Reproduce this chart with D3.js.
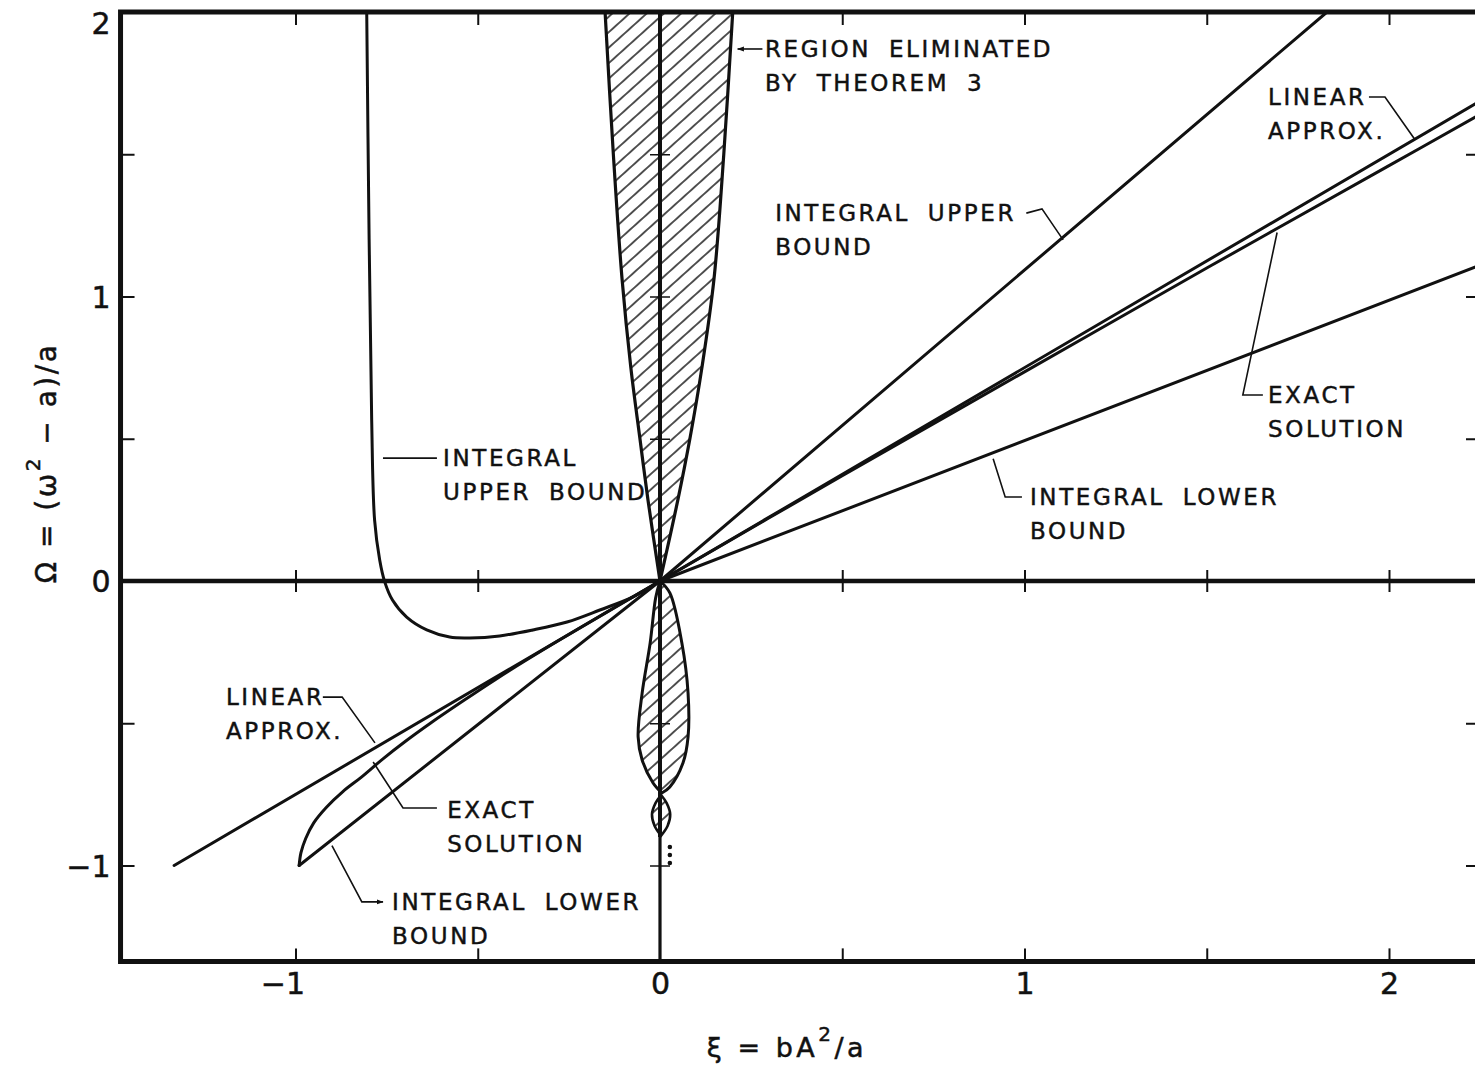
<!DOCTYPE html>
<html>
<head>
<meta charset="utf-8">
<script src="https://cdn.jsdelivr.net/npm/d3@7"></script>
<style>
  html, body { margin: 0; padding: 0; background: #fff; }
  svg { display: block; }
  text { font-family: "DejaVu Sans", sans-serif; fill: #111; }
</style>
</head>
<body>
<svg id="chart" width="1475" height="1071"></svg>
<script>
// ---- axis ticks --------------------------------------------------------
const xiTicks = [-1, -0.5, 0.5, 1, 1.5, 2];
const xiTickLabels = [-1, 0, 1, 2];
const omegaTicks = [-1, -0.5, 0.5, 1, 1.5];
const omegaTickLabels = [-1, 0, 1, 2];

// ---- curves, points are [xi, Omega] ------------------------------------
const linearApprox = [[-1.333, -1.0], [2.25, 1.6875]];

const exactSolutionRight = [[0, 0], [0.5, 0.37], [1, 0.735], [1.5, 1.10], [2, 1.46], [2.25, 1.64]];
const exactSolutionLeft = [
  [0, 0], [-0.3, -0.226], [-0.45, -0.345], [-0.55, -0.43], [-0.63, -0.5], [-0.7, -0.565],
  [-0.76, -0.625], [-0.82, -0.69], [-0.87, -0.74], [-0.915, -0.795], [-0.95, -0.85],
  [-0.972, -0.905], [-0.985, -0.955], [-0.99, -1.0]
];

const integralUpperLeft = [
  [-0.805, 2.05], [-0.798, 1.2], [-0.791, 0.566], [-0.783, 0.214], [-0.769, 0.074],
  [-0.755, -0.004], [-0.734, -0.067], [-0.695, -0.127], [-0.640, -0.172], [-0.577, -0.197],
  [-0.522, -0.200], [-0.440, -0.193], [-0.349, -0.172], [-0.255, -0.144], [-0.165, -0.102],
  [-0.074, -0.056], [0, 0]
];
const integralUpperRight = [[0, 0], [1.83, 2.0]];

const integralLowerLeft = [[-0.99, -1.0], [0, 0]];
const integralLowerRight = [[0, 0], [2.25, 1.11]];

// ---- region eliminated by Theorem 3 -------------------------------------
const wedgeLeft  = [[0, 0], [-0.033, 0.285], [-0.055, 0.5], [-0.08, 0.75], [-0.104, 1.06], [-0.128, 1.5], [-0.152, 2.03]];
const wedgeRight = [[0, 0], [0.049, 0.285], [0.082, 0.5], [0.115, 0.75], [0.148, 1.06], [0.175, 1.5], [0.201, 2.03]];

const lobeLeft  = [[0, 0], [-0.012, -0.06], [-0.027, -0.218], [-0.049, -0.394], [-0.060, -0.548], [-0.049, -0.629], [-0.019, -0.710], [0.005, -0.745]];
const lobeRight = [[0, 0], [0.027, -0.042], [0.060, -0.218], [0.077, -0.394], [0.077, -0.548], [0.063, -0.640], [0.027, -0.724], [0.005, -0.745]];

const smallLobeLeft  = [[0.003, -0.752], [-0.012, -0.78], [-0.022, -0.82], [-0.015, -0.86], [0.003, -0.895]];
const smallLobeRight = [[0.003, -0.752], [0.018, -0.78], [0.028, -0.82], [0.021, -0.86], [0.003, -0.895]];

const continuationDots = [[0.027, -0.935], [0.027, -0.963], [0.027, -0.991]];

// ---- annotations: text anchor and leader in data units ------------------
const notes = [
  { lines: ["REGION ELIMINATED", "BY THEOREM 3"], at: [0.288, 1.870],
    leader: [[0.281, 1.870], [0.213, 1.870]], arrow: "end" },
  { lines: ["INTEGRAL UPPER", "BOUND"], at: [0.316, 1.293],
    leader: [[1.005, 1.293], [1.048, 1.308], [1.106, 1.199]] },
  { lines: ["LINEAR", "APPROX."], at: [1.668, 1.701],
    leader: [[1.945, 1.701], [1.989, 1.701], [2.071, 1.552]] },
  { lines: ["EXACT", "SOLUTION"], at: [1.668, 0.654],
    leader: [[1.654, 0.654], [1.599, 0.654], [1.693, 1.225]] },
  { lines: ["INTEGRAL LOWER", "BOUND"], at: [1.015, 0.295],
    leader: [[0.993, 0.295], [0.947, 0.295], [0.914, 0.43]] },
  { lines: ["INTEGRAL", "UPPER BOUND"], at: [-0.595, 0.432],
    leader: [[-0.760, 0.432], [-0.612, 0.432]] },
  { lines: ["LINEAR", "APPROX."], at: [-1.191, -0.408],
    leader: [[-0.925, -0.408], [-0.872, -0.408], [-0.782, -0.569]] },
  { lines: ["EXACT", "SOLUTION"], at: [-0.584, -0.805],
    leader: [[-0.787, -0.636], [-0.705, -0.798], [-0.612, -0.798]] },
  { lines: ["INTEGRAL LOWER", "BOUND"], at: [-0.735, -1.128],
    leader: [[-0.900, -0.93], [-0.818, -1.128], [-0.760, -1.128]], arrow: "end" }
];

// ---- scales --------------------------------------------------------------
const xDomain = [-1.48, 2.25];
const yDomain = [-1.337, 2];
const x = d3.scaleLinear().domain(xDomain).range([660 + 364.5 * xDomain[0], 660 + 364.5 * xDomain[1]]);
const y = d3.scaleLinear().domain(yDomain).range([581 - 284.5 * yDomain[0], 581 - 284.5 * yDomain[1]]);

const svg = d3.select("#chart");
const defs = svg.append("defs");

const frameLeft = x(xDomain[0]), frameRight = x(xDomain[1]);
const frameTop = y(yDomain[1]), frameBottom = y(yDomain[0]);

defs.append("clipPath").attr("id", "plotClip")
  .append("rect").attr("x", frameLeft).attr("y", frameTop)
  .attr("width", frameRight - frameLeft).attr("height", frameBottom - frameTop);

// diagonal hatching
const hatch = defs.append("pattern").attr("id", "hatch")
  .attr("patternUnits", "userSpaceOnUse")
  .attr("width", 40).attr("height", 11.5)
  .attr("patternTransform", "rotate(-42)");
hatch.append("line").attr("x1", 0).attr("x2", 40).attr("y1", 5.75).attr("y2", 5.75)
  .attr("stroke", "#111").attr("stroke-width", 1.6);

defs.append("marker").attr("id", "arrowHead")
  .attr("viewBox", "0 0 10 10").attr("refX", 9).attr("refY", 5)
  .attr("markerWidth", 7).attr("markerHeight", 7).attr("markerUnits", "userSpaceOnUse")
  .attr("orient", "auto")
  .append("path").attr("d", "M0,1.5 L10,5 L0,8.5 Z").attr("fill", "#111");

const plot = svg.append("g").attr("clip-path", "url(#plotClip)");

const straight = d3.line().x(d => x(d[0])).y(d => y(d[1]));
const smooth = d3.line().x(d => x(d[0])).y(d => y(d[1])).curve(d3.curveCatmullRom.alpha(0.5));

// outline made of two smooth sides joined with straight segments
const twoSided = (a, b) => smooth(a) + smooth(b.slice().reverse()).replace(/^M/, "L") + "Z";

// hatched regions
plot.append("path").attr("d", twoSided(wedgeLeft, wedgeRight)).attr("fill", "url(#hatch)").attr("stroke", "none");
plot.append("path").attr("d", smooth(wedgeLeft)).attr("fill", "none").attr("stroke", "#111").attr("stroke-width", 3.2);
plot.append("path").attr("d", smooth(wedgeRight)).attr("fill", "none").attr("stroke", "#111").attr("stroke-width", 3.2);

plot.append("path").attr("d", twoSided(lobeLeft, lobeRight)).attr("fill", "url(#hatch)")
  .attr("stroke", "#111").attr("stroke-width", 3);

plot.append("path").attr("d", twoSided(smallLobeLeft, smallLobeRight)).attr("fill", "url(#hatch)")
  .attr("stroke", "#111").attr("stroke-width", 2.6);

plot.selectAll("circle.dot").data(continuationDots).join("circle")
  .attr("class", "dot").attr("cx", d => x(d[0])).attr("cy", d => y(d[1])).attr("r", 2.3).attr("fill", "#111");

// central axes
plot.append("line").attr("x1", frameLeft).attr("x2", frameRight).attr("y1", y(0)).attr("y2", y(0))
  .attr("stroke", "#111").attr("stroke-width", 4.5);
plot.append("line").attr("x1", x(0)).attr("x2", x(0)).attr("y1", frameTop).attr("y2", y(-0.9))
  .attr("stroke", "#111").attr("stroke-width", 4);
plot.append("line").attr("x1", x(0)).attr("x2", x(0)).attr("y1", y(-0.9)).attr("y2", frameBottom)
  .attr("stroke", "#111").attr("stroke-width", 3.2);

// curves
const curveStyle = sel => sel.attr("fill", "none").attr("stroke", "#111")
  .attr("stroke-width", 3).attr("stroke-linejoin", "round").attr("stroke-linecap", "round");

plot.append("path").attr("d", straight(linearApprox)).call(curveStyle);
plot.append("path").attr("d", smooth(exactSolutionRight)).call(curveStyle);
plot.append("path").attr("d", smooth(exactSolutionLeft)).call(curveStyle);
plot.append("path").attr("d", smooth(integralUpperLeft)).call(curveStyle);
plot.append("path").attr("d", straight(integralUpperRight)).call(curveStyle);
plot.append("path").attr("d", straight(integralLowerLeft)).call(curveStyle);
plot.append("path").attr("d", straight(integralLowerRight)).call(curveStyle);

// ---- frame ticks (drawn with d3 axes) -------------------------------------
const tickStyle = g => {
  g.select(".domain").remove();
  g.selectAll(".tick line").attr("stroke", "#111").attr("stroke-width", 2);
  g.selectAll(".tick text").remove();
};
svg.append("g").attr("transform", `translate(0,${frameBottom})`)
  .call(d3.axisTop(x).tickValues(xiTicks).tickSize(13)).call(tickStyle);
svg.append("g").attr("transform", `translate(0,${frameTop})`)
  .call(d3.axisBottom(x).tickValues(xiTicks).tickSize(13)).call(tickStyle);
svg.append("g").attr("transform", `translate(${frameLeft},0)`)
  .call(d3.axisRight(y).tickValues(omegaTicks).tickSize(14)).call(tickStyle);
svg.append("g").attr("transform", `translate(${Math.min(frameRight, 1478)},0)`)
  .call(d3.axisLeft(y).tickValues(omegaTicks).tickSize(12)).call(tickStyle);

// crossing ticks on the central axes
svg.append("g").attr("transform", `translate(0,${y(0)})`)
  .call(d3.axisBottom(x).tickValues(xiTicks).tickSize(11)).call(tickStyle);
svg.append("g").attr("transform", `translate(0,${y(0)})`)
  .call(d3.axisTop(x).tickValues(xiTicks).tickSize(11)).call(tickStyle);
svg.append("g").attr("transform", `translate(${x(0)},0)`)
  .call(d3.axisLeft(y).tickValues(omegaTicks).tickSize(10)).call(tickStyle)
  .selectAll(".tick line").attr("stroke-width", 1.5);
svg.append("g").attr("transform", `translate(${x(0)},0)`)
  .call(d3.axisRight(y).tickValues(omegaTicks).tickSize(10)).call(tickStyle)
  .selectAll(".tick line").attr("stroke-width", 1.5);

// frame
svg.append("path")
  .attr("d", `M${frameRight},${frameTop} L${frameLeft},${frameTop} L${frameLeft},${frameBottom} L${frameRight},${frameBottom}`)
  .attr("fill", "none").attr("stroke", "#111").attr("stroke-width", 5)
  .attr("stroke-linejoin", "miter");

// ---- tick labels -----------------------------------------------------------
const fmt = v => (v < 0 ? "\u2212" : "") + Math.abs(v);
const yLab = svg.append("g").attr("transform", `translate(${frameLeft},0)`)
  .call(d3.axisLeft(y).tickValues(omegaTickLabels).tickSize(0).tickPadding(10).tickFormat(fmt));
yLab.select(".domain").remove();
yLab.selectAll(".tick text").attr("font-size", 30).attr("font-family", "DejaVu Sans").attr("fill", "#111")
  .attr("stroke", "#111").attr("stroke-width", 0.5)
  .attr("dy", d => d === 2 ? "0.72em" : "0.36em");

const xLab = svg.append("g").attr("transform", `translate(0,${frameBottom})`)
  .call(d3.axisBottom(x).tickValues(xiTickLabels).tickSize(0).tickPadding(11).tickFormat(fmt));
xLab.select(".domain").remove();
xLab.selectAll(".tick text").attr("font-size", 30).attr("font-family", "DejaVu Sans").attr("fill", "#111")
  .attr("stroke", "#111").attr("stroke-width", 0.5)
  .attr("text-anchor", d => d < 0 ? "end" : "middle")
  .attr("dx", d => d < 0 ? 9 : 0);

// ---- annotations -----------------------------------------------------------
const lineGap = 34;
const noteG = svg.append("g");
notes.forEach(n => {
  const t = noteG.append("text")
    .attr("x", x(n.at[0])).attr("y", y(n.at[1]))
    .attr("font-size", 23).attr("letter-spacing", 2.6).attr("word-spacing", 8)
    .attr("stroke", "#111").attr("stroke-width", 0.45);
  n.lines.forEach((ln, i) => {
    t.append("tspan").attr("x", x(n.at[0])).attr("y", y(n.at[1]) + i * lineGap)
      .attr("dominant-baseline", "central").text(ln);
  });
  const p = noteG.append("path").attr("d", straight(n.leader))
    .attr("fill", "none").attr("stroke", "#111").attr("stroke-width", 1.6);
  if (n.arrow) p.attr("marker-end", "url(#arrowHead)");
});

// ---- axis titles -----------------------------------------------------------
const yTitle = svg.append("text")
  .attr("transform", "translate(46,463) rotate(-90)")
  .attr("text-anchor", "middle").attr("dominant-baseline", "central")
  .attr("font-size", 28).attr("letter-spacing", 2.5)
  .attr("stroke", "#111").attr("stroke-width", 0.5);
yTitle.append("tspan").text("\u03A9 = (\u03C9");
yTitle.append("tspan").attr("font-size", 20).attr("dy", -13).text("2");
yTitle.append("tspan").attr("dy", 13).text(" \u2212 a)/a");

const xTitle = svg.append("text")
  .attr("x", 787).attr("y", 1047)
  .attr("text-anchor", "middle").attr("dominant-baseline", "central")
  .attr("font-size", 27).attr("letter-spacing", 3.5)
  .attr("stroke", "#111").attr("stroke-width", 0.5);
xTitle.append("tspan").text("\u03BE = bA");
xTitle.append("tspan").attr("font-size", 20).attr("dy", -13).text("2");
xTitle.append("tspan").attr("dy", 13).text("/a");
</script>
</body>
</html>
